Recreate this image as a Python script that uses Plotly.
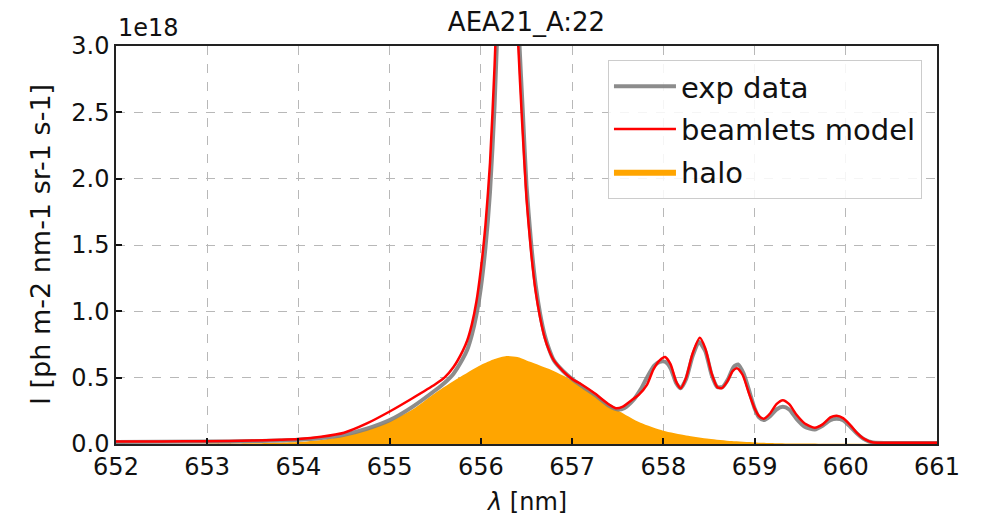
import plotly.graph_objects as go

# Wavelength grid (nm) and intensities (units of 1e18 ph m-2 nm-1 sr-1 s-1)
model_wl = [652.0, 652.5, 653.0, 653.5, 653.8, 654.0, 654.25, 654.5, 654.75, 655.0,
            655.25, 655.5, 655.6, 655.7, 655.8, 655.85, 655.9, 655.95, 656.0, 656.05,
            656.1, 656.15, 656.2, 656.25, 656.28, 656.32, 656.37, 656.41, 656.45, 656.5,
            656.55, 656.6, 656.65, 656.7, 656.75, 656.8, 656.9, 657.0, 657.1, 657.25,
            657.4, 657.48, 657.55, 657.67, 657.73, 657.82, 657.89, 657.96, 658.02, 658.08,
            658.14, 658.19, 658.25, 658.32, 658.40, 658.46, 658.53, 658.59, 658.64, 658.7,
            658.76, 658.81, 658.87, 658.94, 659.0, 659.05, 659.1, 659.17, 659.24, 659.31,
            659.38, 659.46, 659.55, 659.66, 659.75, 659.83, 659.9, 659.97, 660.05, 660.12,
            660.19, 660.25, 660.3, 660.5, 661.0]
model_I = [0.018, 0.019, 0.021, 0.026, 0.032, 0.038, 0.055, 0.085, 0.155, 0.245,
           0.345, 0.45, 0.50, 0.58, 0.70, 0.78, 0.90, 1.07, 1.32, 1.65,
           2.12, 2.85, 3.8, 4.7, 5.0, 4.75, 3.75, 3.0, 2.45, 1.85,
           1.45, 1.15, 0.95, 0.80, 0.70, 0.63, 0.55, 0.49, 0.45, 0.38,
           0.30, 0.27, 0.28, 0.34, 0.37, 0.445, 0.56, 0.63, 0.655, 0.60,
           0.47, 0.42, 0.50, 0.68, 0.80, 0.72, 0.53, 0.43, 0.42, 0.47,
           0.55, 0.57, 0.52, 0.38, 0.27, 0.21, 0.19, 0.23, 0.30, 0.33,
           0.30, 0.22, 0.155, 0.123, 0.15, 0.20, 0.213, 0.195, 0.143, 0.085,
           0.043, 0.022, 0.012, 0.01, 0.01]

exp_wl = [652.0, 653.0, 653.5, 654.0, 654.25, 654.5, 654.75, 655.0, 655.25, 655.5,
          655.6, 655.7, 655.8, 655.85, 655.9, 655.95, 656.0, 656.05, 656.1, 656.15,
          656.2, 656.25, 656.29, 656.33, 656.38, 656.42, 656.46, 656.5, 656.55, 656.6,
          656.65, 656.7, 656.75, 656.8, 656.9, 657.0, 657.1, 657.25, 657.4, 657.5,
          657.57, 657.67, 657.75, 657.82, 657.9, 657.96, 658.02, 658.08, 658.14, 658.19,
          658.25, 658.32, 658.39, 658.46, 658.53, 658.59, 658.65, 658.71, 658.77, 658.82,
          658.88, 658.95, 659.0, 659.05, 659.1, 659.17, 659.24, 659.31, 659.38, 659.46,
          659.55, 659.66, 659.75, 659.83, 659.9, 659.97, 660.05, 660.12, 660.19, 660.25,
          660.3, 660.5, 661.0]
exp_I = [0.015, 0.018, 0.022, 0.032, 0.045, 0.07, 0.115, 0.18, 0.28, 0.405,
         0.46, 0.53, 0.64, 0.71, 0.82, 0.97, 1.18, 1.48, 1.90, 2.55,
         3.5, 4.5, 4.9, 4.7, 3.8, 3.05, 2.5, 1.95, 1.52, 1.2,
         0.98, 0.82, 0.71, 0.63, 0.55, 0.49, 0.44, 0.37, 0.29, 0.26,
         0.27, 0.33, 0.41, 0.50, 0.59, 0.62, 0.62, 0.57, 0.46, 0.42,
         0.49, 0.66, 0.77, 0.70, 0.52, 0.43, 0.43, 0.49, 0.58, 0.60,
         0.53, 0.38, 0.27, 0.20, 0.18, 0.21, 0.26, 0.28, 0.26, 0.19,
         0.13, 0.11, 0.14, 0.18, 0.19, 0.18, 0.13, 0.08, 0.04, 0.02,
         0.012, 0.008, 0.008]

halo_wl = [652.0, 653.0, 653.5, 654.0, 654.25, 654.5, 654.75, 655.0, 655.25, 655.5,
           655.75, 656.0, 656.15, 656.28, 656.4, 656.5, 656.75, 657.0, 657.25, 657.5,
           657.75, 658.0, 658.25, 658.5, 658.75, 659.0, 659.25, 659.5, 660.0, 661.0]
halo_I = [0.0, 0.002, 0.005, 0.015, 0.03, 0.06, 0.11, 0.17, 0.26, 0.385,
          0.495, 0.595, 0.64, 0.663, 0.655, 0.63, 0.565, 0.48, 0.37, 0.255,
          0.16, 0.10, 0.065, 0.04, 0.022, 0.012, 0.006, 0.003, 0.001, 0.0]

x_ticks = [652, 653, 654, 655, 656, 657, 658, 659, 660, 661]
y_ticks = [0.0, 0.5, 1.0, 1.5, 2.0, 2.5, 3.0]

FONT = "DejaVu Sans"

fig = go.Figure()
fig.add_trace(go.Scatter(
    x=halo_wl, y=halo_I, name="halo", mode="lines", fill="tozeroy",
    line=dict(width=0, color="#FFA500", shape="spline", smoothing=0.6),
    fillcolor="#FFA500", legendgroup="c", legendrank=3,
))
fig.add_trace(go.Scatter(
    x=exp_wl, y=exp_I, name="exp data", mode="lines",
    line=dict(color="rgba(128,128,128,0.9)", width=4, shape="spline", smoothing=0.6),
    legendgroup="a", legendrank=1,
))
fig.add_trace(go.Scatter(
    x=model_wl, y=model_I, name="beamlets model", mode="lines",
    line=dict(color="#FF0000", width=2.5, shape="spline", smoothing=0.6),
    legendgroup="b", legendrank=2,
))

axis_common = dict(
    showline=True, linecolor="#222222", linewidth=1.5, mirror=True,
    ticks="inside", ticklen=6, tickwidth=2, tickcolor="#111111",
    showgrid=True, gridcolor="#b8b8b8", griddash="dash", gridwidth=1,
    zeroline=False, tickfont=dict(family=FONT, size=24, color="#111111"),
)

fig.update_xaxes(range=[652, 661], tickvals=x_ticks, ticktext=[str(v) for v in x_ticks],
                 **axis_common)
fig.update_yaxes(range=[0, 3], tickvals=y_ticks, ticktext=[f"{v:.1f}" for v in y_ticks],
                 **axis_common)

fig.update_layout(
    width=984, height=515,
    margin=dict(l=116, r=47, t=46, b=71),
    paper_bgcolor="white", plot_bgcolor="white",
    font=dict(family=FONT, color="#111111"),
    title=dict(text="AEA21_A:22", x=(116 + 937) / 2 / 984, xanchor="center",
               y=1 - 22 / 515, yanchor="middle",
               font=dict(family=FONT, size=26, color="#111111")),
    showlegend=True,
    legend=dict(
        x=0.9817, xanchor="right", y=0.965, yanchor="top",
        bgcolor="rgba(255,255,255,0.85)", bordercolor="#cccccc", borderwidth=1,
        font=dict(family=FONT, size=29, color="#111111"),
        tracegroupgap=2, itemwidth=62,
    ),
    annotations=[
        dict(text="1e18", xref="paper", yref="paper", x=0.0, y=1.0,
             xanchor="left", yanchor="bottom", yshift=2, showarrow=False,
             font=dict(family=FONT, size=24, color="#111111")),
        dict(text="I [ph m-2 nm-1 sr-1 s-1]", xref="paper", yref="paper",
             x=(40 - 116) / 821, y=0.5, xanchor="center", yanchor="middle",
             textangle=-90, showarrow=False,
             font=dict(family=FONT, size=27, color="#111111")),
        dict(text="<i>λ</i> [nm]", xref="paper", yref="paper",
             x=0.5, y=-58 / 398, xanchor="center", yanchor="middle",
             showarrow=False, font=dict(family=FONT, size=24, color="#111111")),
    ],
)

fig.write_html("out.html")
